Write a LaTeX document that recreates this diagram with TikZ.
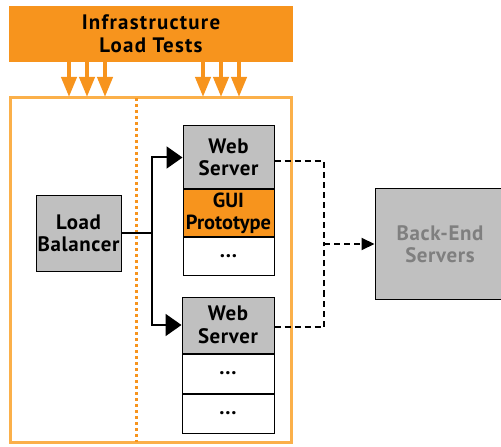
\documentclass[tikz,border=0pt]{standalone}
\usepackage{fontspec}
\setmainfont{PT Sans}
\usetikzlibrary{arrows.meta}
\definecolor{orA}{HTML}{F7941D}
\definecolor{orB}{HTML}{FBB04A}
\definecolor{gr}{HTML}{C0C0C0}
\definecolor{txtgr}{HTML}{7F7F7F}
\tikzset{
  box/.style={draw=black, line width=1bp, inner sep=0pt, align=center,
    font=\fontsize{21}{22.5}\selectfont\bfseries\addfontfeature{LetterSpace=3}},
  downarrow/.style={orA, line width=4bp, -{Triangle[length=20bp,width=15bp]}},
  conn/.style={line width=2bp, -{Triangle[length=16bp,width=22bp]}},
  dconn/.style={line width=2bp, dash pattern=on 6bp off 4bp},
}
\begin{document}
\begin{tikzpicture}[x=1bp,y=-1bp]
\useasboundingbox (0,0) rectangle (501,447);
\clip (0,0) rectangle (501,447);
% banner
\node[fill=orA, minimum width=284bp, minimum height=56bp, inner sep=0pt, align=center,
  font=\fontsize{21}{23}\selectfont\bfseries\addfontfeature{LetterSpace=6}] (banner) at (151,34)
  {Infrastructure\\Load Tests};
% outer frame
\draw[orB, line width=3bp] (10,98) rectangle (291,442);
\coordinate (frtop) at (136,98);
\coordinate (frbot) at (136,442);
\draw[orA, line width=3bp, dash pattern=on 3bp off 3bp] (frtop) -- (frbot);
% arrows from banner
\foreach \x/\n in {69/a1,87/a2,105/a3,203/a4,221/a5,239/a6}{
  \coordinate (\n s) at (\x,62);
  \coordinate (\n e) at (\x,97);
  \draw[downarrow] (\n s) -- (\n e);
}
% load balancer
\node[box, fill=gr, minimum width=85bp, minimum height=75bp] (lb) at (78.5,233.5) {Load\\Balancer};
% web server 1 stack
\node[box, fill=gr, minimum width=91bp, minimum height=63bp] (ws1) at (228.5,157.5) {Web\\Server};
\node[box, fill=orA, minimum width=91bp, minimum height=46bp, anchor=north,
  font=\fontsize{20.5}{22}\selectfont\bfseries] (gui) at (ws1.south) {GUI\\Prototype};
\node[box, fill=white, minimum width=91bp, minimum height=38bp, anchor=north] (d1) at (gui.south) {...};
% web server 2 stack
\node[box, fill=gr, minimum width=92bp, minimum height=56bp] (ws2) at (228,325) {Web\\Server};
\node[box, fill=white, minimum width=92bp, minimum height=39bp, anchor=north] (d2) at (ws2.south) {...};
\node[box, fill=white, minimum width=92bp, minimum height=39bp, anchor=north] (d3) at (d2.south) {...};
% back-end
\node[box, fill=gr, minimum width=130bp, minimum height=110bp, text=txtgr] (be) at (440,244) {Back-End\\Servers};
% solid connectors
\coordinate (split) at (152,233.5);
\draw[line width=2bp] (lb.east) -- (split);
\draw[conn] (split) |- (ws1.west);
\draw[conn] (split) |- (ws2.west);
% dashed connectors
\coordinate (dj) at (324,244);
\draw[dconn] ([yshift=-4bp]ws1.east) -| (dj);
\draw[dconn] ([yshift=-2bp]ws2.east) -| (dj);
\draw[dconn, -{Triangle[length=13bp,width=12bp]}] (dj) -- (be.west);
\end{tikzpicture}
\end{document}
